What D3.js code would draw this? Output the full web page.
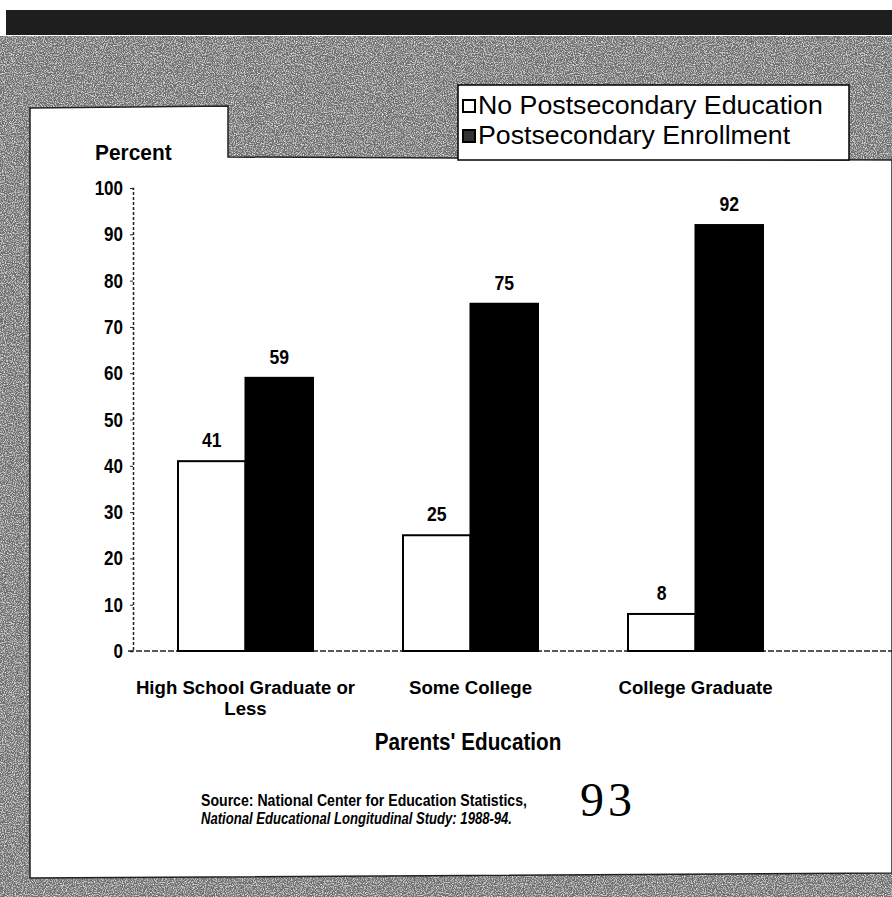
<!DOCTYPE html>
<html><head><meta charset="utf-8">
<script src="https://cdn.jsdelivr.net/npm/d3@7"></script>
<style>body{margin:0;background:#fff}svg{display:block}</style>
</head><body>
<svg id="c" width="892" height="897"></svg>
<script>
const categories = ["High School Graduate or Less", "Some College", "College Graduate"];
const categoryLines = [["High School Graduate or", "Less"], ["Some College"], ["College Graduate"]];
const seriesNames = ["No Postsecondary Education", "Postsecondary Enrollment"];
const noPostsecondary = [41, 25, 8];
const enrolled = [59, 75, 92];
const yTicks = [0, 10, 20, 30, 40, 50, 60, 70, 80, 90, 100];
const yLabel = "Percent";
const xLabel = "Parents' Education";
const sourceLine1 = "Source: National Center for Education Statistics,";
const sourceLine2 = "National Educational Longitudinal Study: 1988-94.";
const pageNumber = "93";

const svg = d3.select("#c");
const FONT = "'Liberation Sans',Arial,Helvetica,sans-serif";

function ctext(parent, x, y, str, size, sx, anchor, opts = {}) {
  const g = parent.append("g").attr("transform", `translate(${x},${y}) scale(${sx},1)`);
  return g.append("text").attr("x", 0).attr("y", 0).attr("text-anchor", anchor || "start")
    .attr("font-family", opts.family || FONT).attr("font-weight", opts.weight || "bold")
    .attr("font-style", opts.italic ? "italic" : "normal")
    .attr("letter-spacing", opts.ls || 0)
    .attr("font-size", size).attr("fill", "#000").text(str);
}

const defs = svg.append("defs");
const f = defs.append("filter").attr("id", "grain").attr("x", 0).attr("y", 0).attr("width", 1).attr("height", 1);
f.append("feTurbulence").attr("type", "fractalNoise").attr("baseFrequency", 0.9).attr("numOctaves", 2).attr("seed", 3).attr("result", "n");
f.append("feColorMatrix").attr("in", "n").attr("type", "matrix")
  .attr("values", "0 0 0 0 0  0 0 0 0 0  0 0 0 0 0  0 0 0 -2.2 1.25").attr("result", "a");
f.append("feFlood").attr("flood-color", "#f2f2f2").attr("result", "w");
f.append("feComposite").attr("in", "w").attr("in2", "a").attr("operator", "in").attr("result", "ws");
f.append("feFlood").attr("flood-color", "#6e6e6e").attr("result", "g");
f.append("feMerge").call(m => { m.append("feMergeNode").attr("in", "g"); m.append("feMergeNode").attr("in", "ws"); });

svg.append("rect").attr("x", 0).attr("y", 0).attr("width", 892).attr("height", 897).attr("fill", "#fff");
svg.append("rect").attr("x", 0).attr("y", 36).attr("width", 892).attr("height", 861).attr("filter", "url(#grain)");
svg.append("rect").attr("x", 6).attr("y", 10).attr("width", 886).attr("height", 25).attr("fill", "#1e1e1e");

svg.append("path")
  .attr("d", "M30,108 L228,106 L228,157 L892,160 L892,873 L30,878 Z")
  .attr("fill", "#fff").attr("stroke", "#222").attr("stroke-width", 1.5);

const x0 = d3.scaleBand().domain(categories).range([133, 808]).paddingInner(0.4).paddingOuter(0.2);
const x1 = d3.scaleBand().domain(seriesNames).range([0, x0.bandwidth()]);
const y = d3.scaleLinear().domain([0, 100]).range([651, 188]);
const colors = d3.scaleOrdinal().domain(seriesNames).range(["#fff", "#000"]);

const yAxis = svg.append("g").attr("transform", "translate(133,0)")
  .call(d3.axisLeft(y).tickValues(yTicks).tickSize(3).tickFormat(""));
yAxis.select(".domain").attr("stroke", "#222").attr("stroke-dasharray", "3,2").attr("stroke-width", 1.5);
yAxis.selectAll(".tick line").attr("stroke", "#222");
yTicks.forEach(t => ctext(svg, 123, y(t) + 7, d3.format("d")(t), 20, 0.85, "end"));

svg.append("line").attr("x1", 128).attr("x2", 892).attr("y1", y(0)).attr("y2", y(0))
  .attr("stroke", "#222").attr("stroke-width", 1.5).attr("stroke-dasharray", "6,2");

const rows = categories.map((c, i) => ({ c, vals: [
  { s: seriesNames[0], v: noPostsecondary[i] },
  { s: seriesNames[1], v: enrolled[i] } ] }));
const g = svg.append("g").selectAll("g").data(rows).join("g")
  .attr("transform", d => `translate(${x0(d.c)},0)`);
g.selectAll("rect").data(d => d.vals).join("rect")
  .attr("x", d => x1(d.s)).attr("width", x1.bandwidth())
  .attr("y", d => y(d.v)).attr("height", d => y(0) - y(d.v))
  .attr("fill", d => colors(d.s)).attr("stroke", "#000").attr("stroke-width", 2);
rows.forEach(r => r.vals.forEach(d => {
  ctext(svg, x0(r.c) + x1(d.s) + x1.bandwidth() / 2, y(d.v) - 14, d.v, 20, 0.88, "middle");
}));

categories.forEach((c, i) => {
  categoryLines[i].forEach((ln, k) =>
    ctext(svg, x0(c) + x0.bandwidth() / 2, 694 + k * 21, ln, 19, 0.98, "middle"));
});

ctext(svg, 95, 160, yLabel, 22, 0.95, "start");
ctext(svg, 468, 750, xLabel, 23, 0.9, "middle");

ctext(svg, 201, 806, sourceLine1, 17, 0.83, "start");
ctext(svg, 201, 824, sourceLine2, 17, 0.77, "start", { italic: true });
ctext(svg, 580, 816, pageNumber, 48, 1, "start", { family: "'Liberation Serif',serif", weight: "normal", ls: 4 });

svg.append("rect").attr("x", 458).attr("y", 85).attr("width", 391).attr("height", 75)
  .attr("fill", "#fff").attr("stroke", "#000").attr("stroke-width", 1.5);
seriesNames.forEach((s, i) => {
  svg.append("rect").attr("x", 463).attr("y", 100 + i * 30).attr("width", 12).attr("height", 12)
    .attr("fill", colors(s) === "#000" ? "#333" : "#fff").attr("stroke", "#000").attr("stroke-width", 2);
  ctext(svg, 478, 114 + i * 30, s, 25, 1.07, "start", { weight: "normal" });
});
</script>
</body></html>
